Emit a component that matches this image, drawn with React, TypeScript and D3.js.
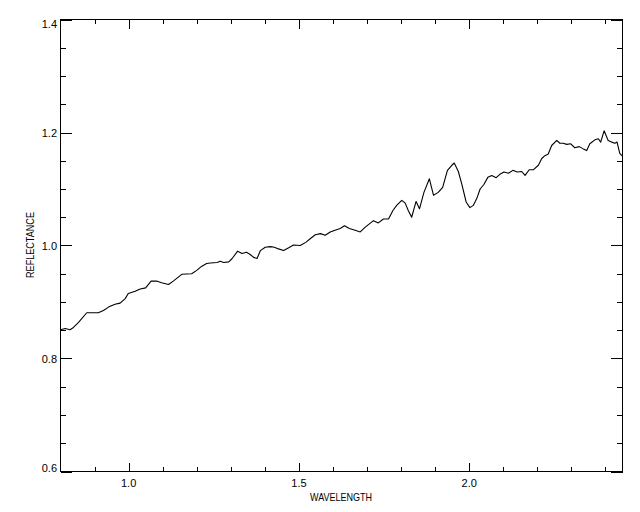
import React from "react";
import * as d3 from "d3";

const wavelength = [
  0.800, 0.814, 0.828, 0.838, 0.853, 0.877, 0.892, 0.911, 0.926, 0.941,
  0.960, 0.975, 0.990, 0.999, 1.019, 1.034, 1.050, 1.066, 1.082, 1.097,
  1.117, 1.131, 1.156, 1.185, 1.200, 1.214, 1.229, 1.240, 1.260, 1.269,
  1.279, 1.294, 1.304, 1.320, 1.333, 1.346, 1.357, 1.367, 1.377, 1.387,
  1.401, 1.416, 1.428, 1.440, 1.455, 1.470, 1.484, 1.504, 1.521, 1.533,
  1.548, 1.563, 1.577, 1.592, 1.606, 1.621, 1.634, 1.648, 1.665, 1.680,
  1.694, 1.704, 1.719, 1.733, 1.748, 1.763, 1.776, 1.787, 1.802, 1.812,
  1.821, 1.831, 1.844, 1.854, 1.867, 1.883, 1.895, 1.909, 1.922, 1.936,
  1.949, 1.956, 1.968, 1.978, 1.991, 2.002, 2.012, 2.022, 2.032, 2.043,
  2.055, 2.066, 2.079, 2.090, 2.102, 2.115, 2.128, 2.141, 2.154, 2.164,
  2.176, 2.188, 2.203, 2.213, 2.222, 2.232, 2.242, 2.257, 2.266, 2.276,
  2.286, 2.298, 2.310, 2.323, 2.335, 2.345, 2.354, 2.369, 2.379, 2.386,
  2.396, 2.408, 2.418, 2.428, 2.434, 2.442, 2.450,
];

const reflectance = [
  0.851, 0.853, 0.851, 0.855, 0.864, 0.881, 0.881, 0.881, 0.885, 0.891,
  0.896, 0.898, 0.906, 0.915, 0.919, 0.923, 0.925, 0.937, 0.937, 0.934,
  0.931, 0.937, 0.949, 0.950, 0.956, 0.963, 0.968, 0.969, 0.970, 0.972,
  0.970, 0.971, 0.977, 0.990, 0.986, 0.988, 0.984, 0.979, 0.977, 0.991,
  0.997, 0.998, 0.997, 0.994, 0.991, 0.996, 1.001, 1.000, 1.006, 1.012,
  1.019, 1.021, 1.018, 1.024, 1.027, 1.030, 1.035, 1.030, 1.027, 1.024,
  1.032, 1.037, 1.044, 1.040, 1.047, 1.047, 1.062, 1.071, 1.080, 1.075,
  1.062, 1.050, 1.078, 1.065, 1.094, 1.118, 1.089, 1.094, 1.103, 1.133,
  1.142, 1.146, 1.131, 1.109, 1.077, 1.067, 1.071, 1.083, 1.100, 1.108,
  1.121, 1.124, 1.120, 1.126, 1.130, 1.128, 1.133, 1.130, 1.131, 1.124,
  1.134, 1.134, 1.142, 1.154, 1.159, 1.162, 1.177, 1.186, 1.181, 1.181,
  1.179, 1.180, 1.173, 1.175, 1.171, 1.168, 1.180, 1.187, 1.189, 1.183,
  1.203, 1.186, 1.183, 1.181, 1.183, 1.163, 1.158,
];

const xMajorTicks = [1.0, 1.5, 2.0];
const xMajorLabels = ["1.0", "1.5", "2.0"];
const xMinorTicks = [0.9, 1.1, 1.2, 1.3, 1.4, 1.6, 1.7, 1.8, 1.9, 2.1, 2.2, 2.3, 2.4];
const yMajorTicks = [0.6, 0.8, 1.0, 1.2, 1.4];
const yMajorLabels = ["0.6", "0.8", "1.0", "1.2", "1.4"];
const yMinorTicks = [0.65, 0.7, 0.75, 0.85, 0.9, 0.95, 1.05, 1.1, 1.15, 1.25, 1.3, 1.35];

const xTitle = "WAVELENGTH";
const yTitle = "REFLECTANCE";

export default function App() {
  const left = 60.5, right = 622.5, top = 19.5, bottom = 471.5;
  const x = d3.scaleLinear().domain([0.8, 2.45]).range([left, right]);
  const y = d3.scaleLinear().domain([0.6, 1.4]).range([bottom, top]);
  const pts: [number, number][] = wavelength.map((w, i) => [w, reflectance[i]]);
  const line = d3
    .line<[number, number]>()
    .x((d) => x(d[0]))
    .y((d) => y(d[1]));

  const xMaj = 9, xMin = 4.5, yMaj = 11.2, yMin = 5.6;
  const font = "'Liberation Sans', Arial, sans-serif";

  return (
    <svg
      width={640}
      height={512}
      style={{ position: "absolute", left: 0, top: 0, background: "#fff" }}
      fontFamily={font}
    >
      <rect x={0} y={0} width={640} height={512} fill="#fff" />
      <g stroke="#000" strokeWidth={1} shapeRendering="crispEdges" fill="none">
        <rect x={left} y={top} width={right - left} height={bottom - top} />
        {xMajorTicks.map((t) => (
          <g key={"xM" + t}>
            <line x1={Math.round(x(t)) + 0.5} x2={Math.round(x(t)) + 0.5} y1={bottom} y2={bottom - xMaj} />
            <line x1={Math.round(x(t)) + 0.5} x2={Math.round(x(t)) + 0.5} y1={top} y2={top + xMaj} />
          </g>
        ))}
        {xMinorTicks.map((t) => (
          <g key={"xm" + t}>
            <line x1={Math.round(x(t)) + 0.5} x2={Math.round(x(t)) + 0.5} y1={bottom} y2={bottom - xMin} />
            <line x1={Math.round(x(t)) + 0.5} x2={Math.round(x(t)) + 0.5} y1={top} y2={top + xMin} />
          </g>
        ))}
        {yMajorTicks.map((t) => (
          <g key={"yM" + t}>
            <line x1={left} x2={left + yMaj} y1={Math.round(y(t)) + 0.5} y2={Math.round(y(t)) + 0.5} />
            <line x1={right} x2={right - yMaj} y1={Math.round(y(t)) + 0.5} y2={Math.round(y(t)) + 0.5} />
          </g>
        ))}
        {yMinorTicks.map((t) => (
          <g key={"ym" + t}>
            <line x1={left} x2={left + yMin} y1={Math.round(y(t)) + 0.5} y2={Math.round(y(t)) + 0.5} />
            <line x1={right} x2={right - yMin} y1={Math.round(y(t)) + 0.5} y2={Math.round(y(t)) + 0.5} />
          </g>
        ))}
      </g>
      <path d={line(pts) || ""} fill="none" stroke="#000" strokeWidth={1.1} strokeLinejoin="round" />
      <g fontSize={11} fill="#000">
        {xMajorTicks.map((t, i) => (
          <text key={"xl" + t} x={x(t)} y={487} textAnchor="middle">
            {xMajorLabels[i]}
          </text>
        ))}
        {yMajorTicks.map((t, i) => {
          let base = y(t) + 4;
          if (i === 0) base = bottom;
          if (i === yMajorTicks.length - 1) base = top + 8;
          return (
            <text key={"yl" + t} x={57} y={base} textAnchor="end">
              {yMajorLabels[i]}
            </text>
          );
        })}
        <text x={341} y={501} textAnchor="middle" textLength={62} lengthAdjust="spacingAndGlyphs">
          {xTitle}
        </text>
        <text
          transform={`translate(34, 245) rotate(-90)`}
          textAnchor="middle"
          textLength={66}
          lengthAdjust="spacingAndGlyphs"
        >
          {yTitle}
        </text>
      </g>
    </svg>
  );
}
